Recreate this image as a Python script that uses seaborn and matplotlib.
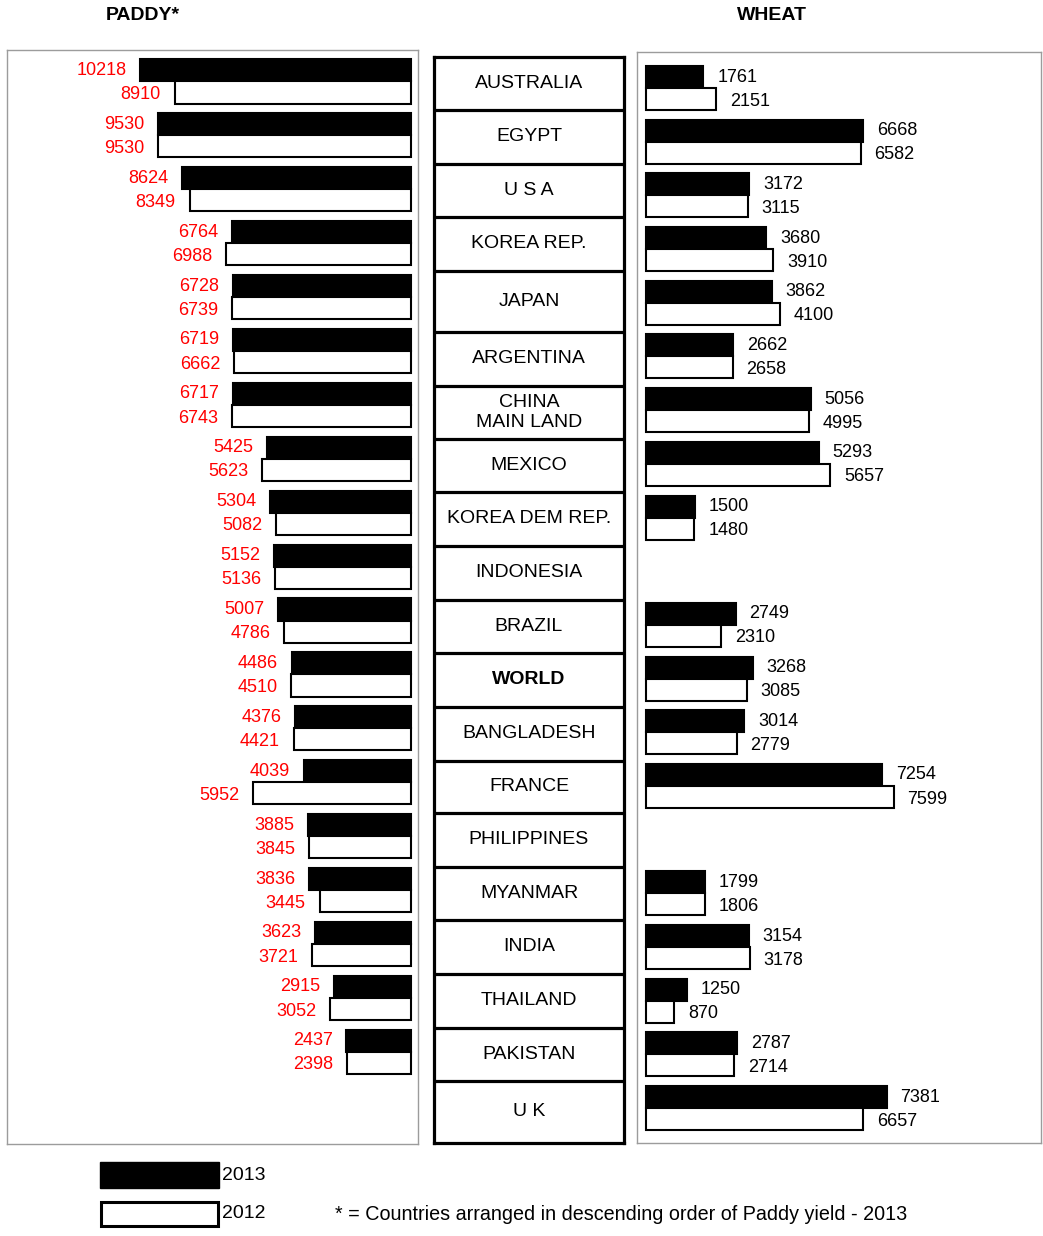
import numpy as np
import pandas as pd
import matplotlib.pyplot as plt
from matplotlib.patches import Rectangle
import seaborn as sns

# ── data ─────────────────────────────────────────────
countries = ["AUSTRALIA", "EGYPT", "U S A", "KOREA REP.", "JAPAN", "ARGENTINA",
             "CHINA\nMAIN LAND", "MEXICO", "KOREA DEM REP.", "INDONESIA", "BRAZIL",
             "WORLD", "BANGLADESH", "FRANCE", "PHILIPPINES", "MYANMAR", "INDIA",
             "THAILAND", "PAKISTAN", "U K"]
paddy_2013 = [10218, 9530, 8624, 6764, 6728, 6719, 6717, 5425, 5304, 5152,
              5007, 4486, 4376, 4039, 3885, 3836, 3623, 2915, 2437, None]
paddy_2012 = [8910, 9530, 8349, 6988, 6739, 6662, 6743, 5623, 5082, 5136,
              4786, 4510, 4421, 5952, 3845, 3445, 3721, 3052, 2398, None]
wheat_2013 = [1761, 6668, 3172, 3680, 3862, 2662, 5056, 5293, 1500, None,
              2749, 3268, 3014, 7254, None, 1799, 3154, 1250, 2787, 7381]
wheat_2012 = [2151, 6582, 3115, 3910, 4100, 2658, 4995, 5657, 1480, None,
              2310, 3085, 2779, 7599, None, 1806, 3178, 870, 2714, 6657]
years = ["2013", "2012"]
footnote = "* = Countries arranged in descending order of Paddy yield - 2013"

# row borders of the country column (pixels)
borders = [57, 110, 164, 217, 271, 332, 386, 439, 492, 546, 600, 653,
           707, 761, 813, 867, 920, 974, 1028, 1081, 1143]

sns.set_style("white")
plt.rcParams["font.family"] = ["Liberation Sans", "DejaVu Sans"]
plt.rcParams["text.color"] = "black"

W, H = 1043, 1236
fig = plt.figure(figsize=(W / 100, H / 100), dpi=100)


def box(x0, y0, x1, y1):
    return [x0 / W, 1 - y1 / H, (x1 - x0) / W, (y1 - y0) / H]


def long_df(v13, v12):
    df = pd.DataFrame({"country": countries, "2013": v13, "2012": v12})
    df = df.melt(id_vars="country", var_name="year", value_name="yield")
    return df.dropna()


def panel(ax, df, label_color, side):
    sns.barplot(data=df, y="country", x="yield", hue="year", order=countries,
                hue_order=years, palette={"2013": "black", "2012": "white"},
                orient="h", width=0.82, edgecolor="black", linewidth=1.5,
                saturation=1, errorbar=None, legend=False, ax=ax)
    ax.set(xlabel="", ylabel="", xticks=[], yticks=[])
    for s in ax.spines.values():
        s.set_color("#9c9c9c")
        s.set_linewidth(1.0)
    # value labels at the outer end of each bar
    for k, c in enumerate(ax.containers):
        dy = 0 if k == 0 else -1.5
        for rect in c.patches:
            ax.annotate(f"{rect.get_width():.0f}",
                        xy=(rect.get_width(), rect.get_y() + rect.get_height() / 2),
                        xytext=(side * 10, dy), textcoords="offset points",
                        ha="left" if side > 0 else "right", va="center",
                        color=label_color, fontsize=13)


# ── paddy (left) ─────────────────────────────────────
ax_l = fig.add_axes(box(7, 50, 418, 1144))
ax_l.set_xlim(15245, -264)
panel(ax_l, long_df(paddy_2013, paddy_2012), "#ff0000", -1)
ax_l.set_xlim(15245, -264)
ax_l.set_ylim(19.71, -0.584)

# ── wheat (right) ────────────────────────────────────
ax_r = fig.add_axes(box(637, 52, 1041, 1143))
panel(ax_r, long_df(wheat_2013, wheat_2012), "black", 1)
ax_r.set_xlim(-276, 12117)
ax_r.set_ylim(19.65, -0.671)

# ── country column ───────────────────────────────────
mid = fig.add_axes(box(433.5, 57, 624.5, 1143))
mid.set_xlim(0, 1)
mid.set_ylim(1143, 57)
mid.set_xticks([])
mid.set_yticks([])
for s in mid.spines.values():
    s.set_color("black")
    s.set_linewidth(2.3)
for b in borders[1:-1]:
    mid.axhline(b, color="black", lw=2.3)
for name, b0, b1 in zip(countries, borders[:-1], borders[1:]):
    mid.text(0.5, (b0 + b1) / 2, name, ha="center", va="center", fontsize=14,
             linespacing=1.3, fontweight="bold" if name == "WORLD" else "normal")

# ── titles ───────────────────────────────────────────
fig.text(143 / W, 1 - 16 / H, "PADDY*", ha="center", va="center",
         fontsize=14, fontweight="bold")
fig.text(772 / W, 1 - 16 / H, "WHEAT", ha="center", va="center",
         fontsize=14, fontweight="bold")

# ── legend + footnote ────────────────────────────────
fig.patches.append(Rectangle((100 / W, 1 - 1188 / H), 119 / W, 26 / H,
                             transform=fig.transFigure, facecolor="black",
                             edgecolor="black"))
fig.patches.append(Rectangle((101 / W, 1 - 1226 / H), 117 / W, 24 / H,
                             transform=fig.transFigure, facecolor="white",
                             edgecolor="black", linewidth=2.2))
fig.text(222 / W, 1 - 1175 / H, years[0], va="center", fontsize=14)
fig.text(222 / W, 1 - 1214 / H, years[1], va="center", fontsize=14)
fig.text(335 / W, 1 - 1214 / H, footnote, va="center", fontsize=14.2)

fig.savefig("out.png", dpi=100)
